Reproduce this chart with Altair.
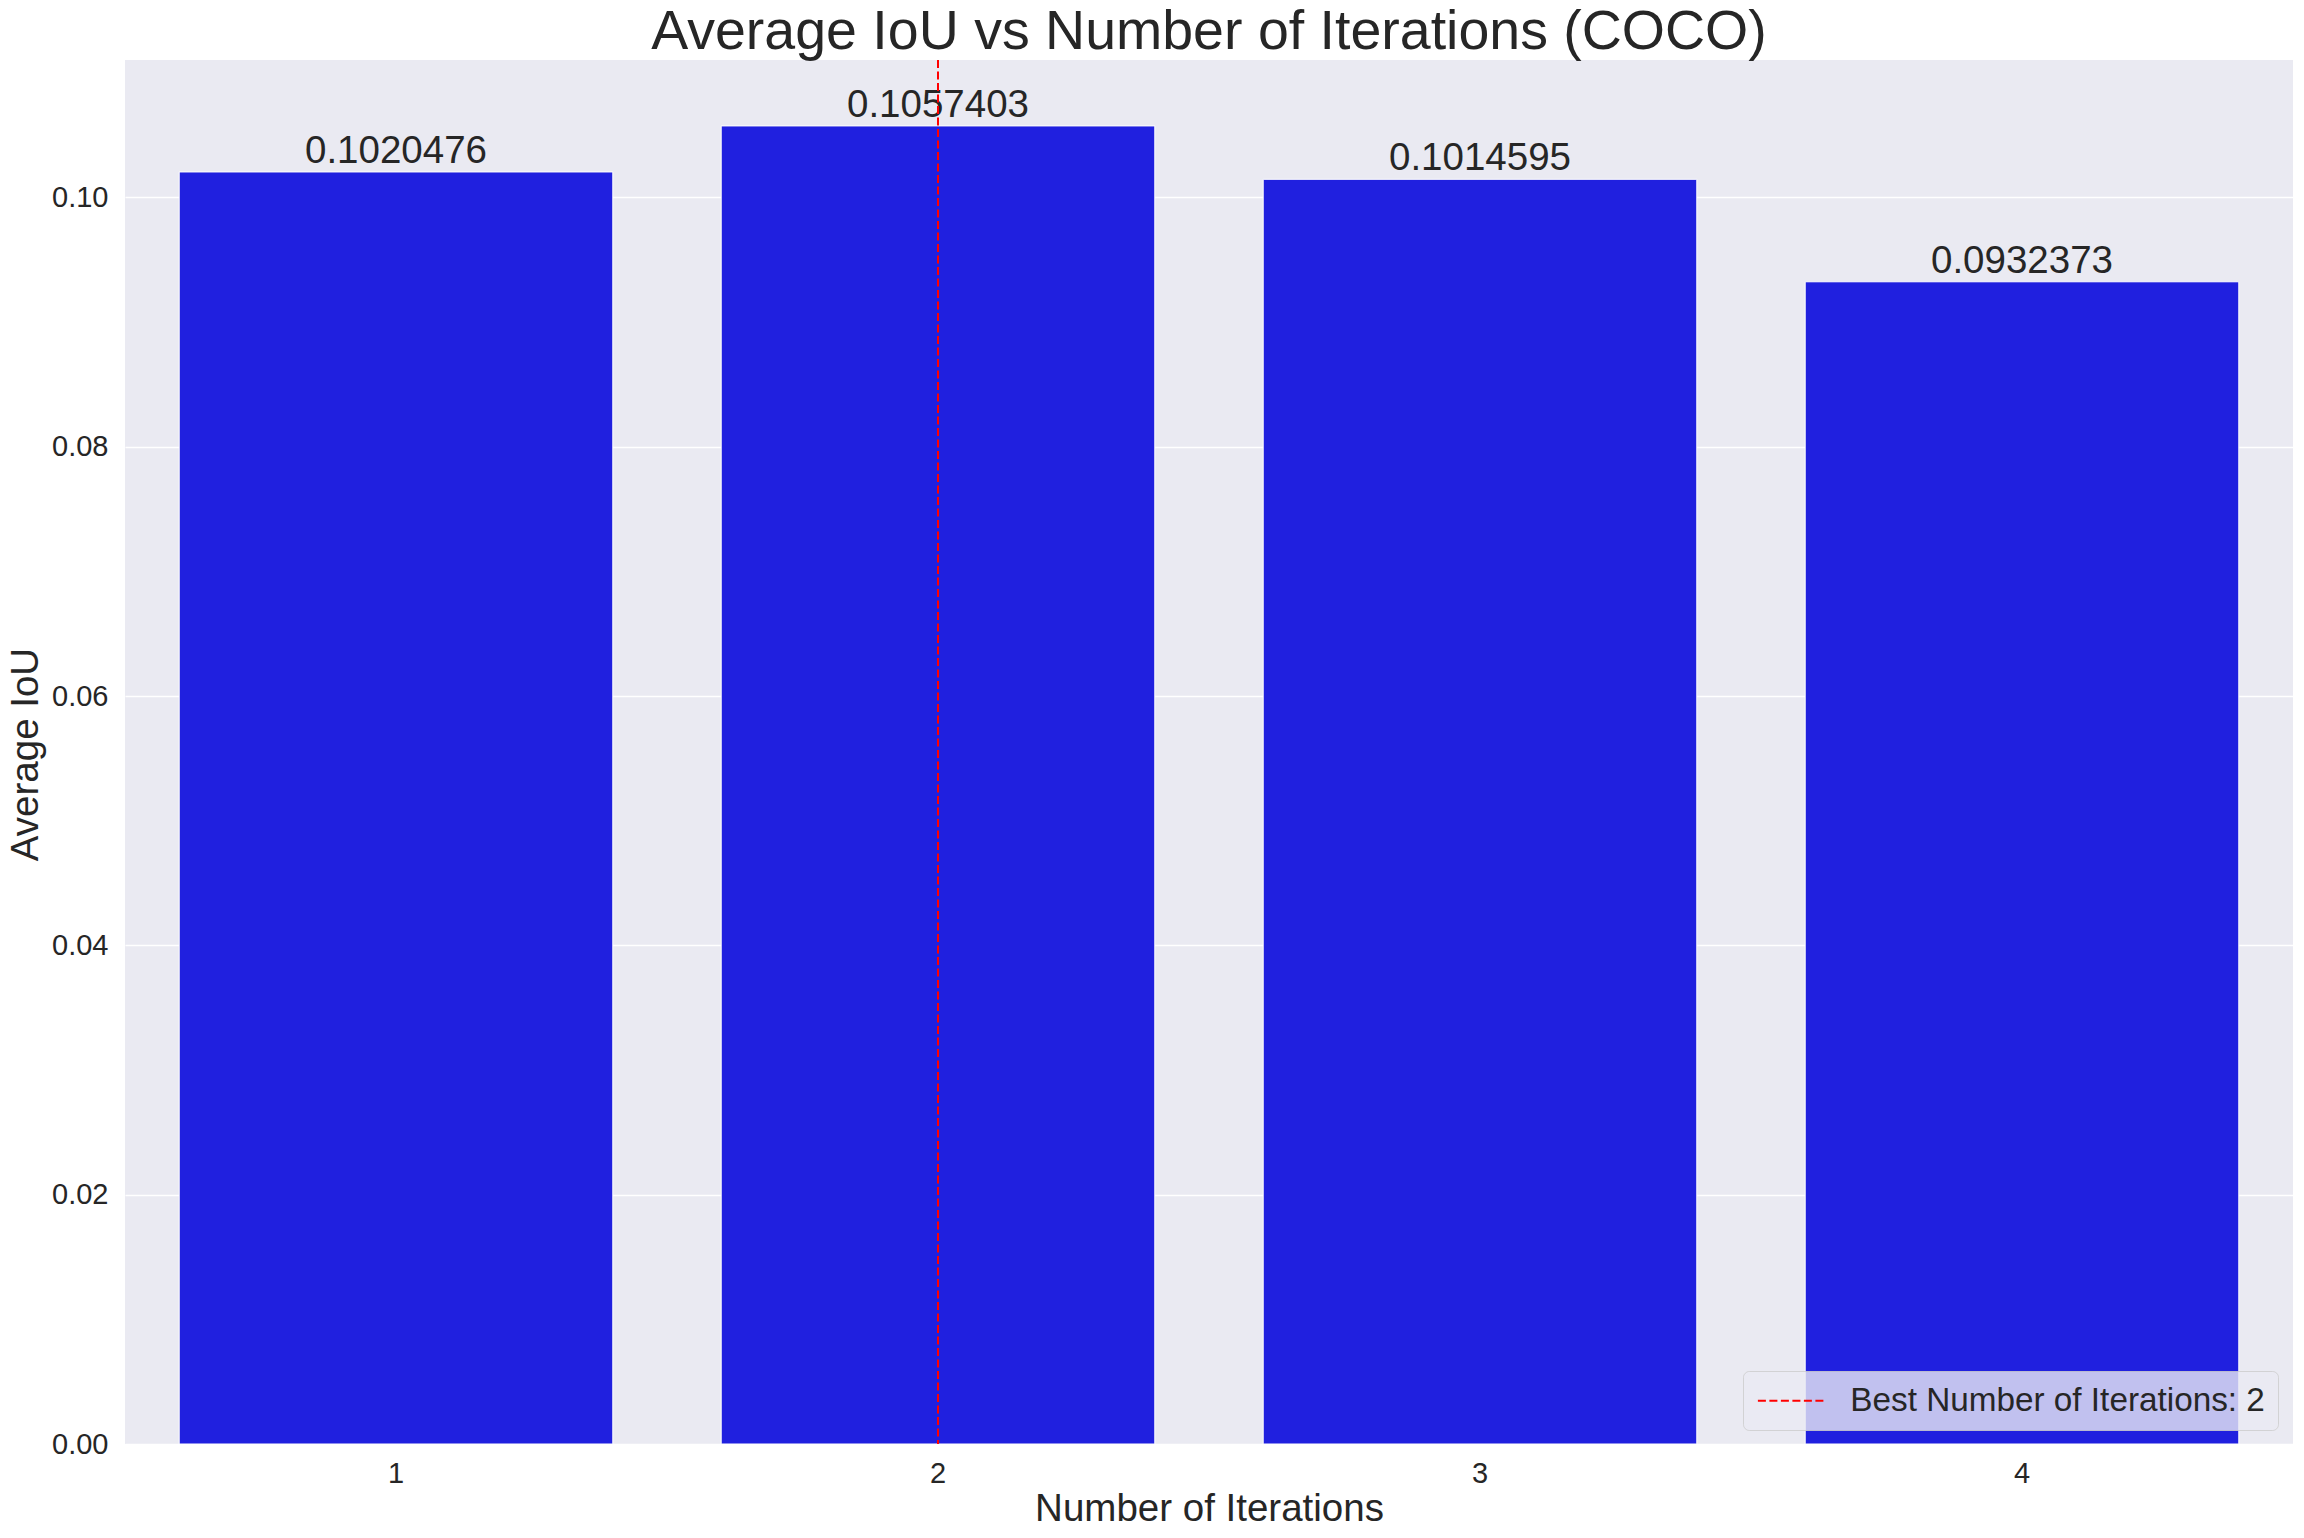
import altair as alt
import pandas as pd

iterations = ["1", "2", "3", "4"]
avg_iou = [0.1020476, 0.1057403, 0.1014595, 0.0932373]
best_iter = ["2"]
best_label = ["Best Number of Iterations: 2"]
y_ticks = [0.0, 0.02, 0.04, 0.06, 0.08, 0.10]

FONT = "Liberation Sans"
TXT = "#262626"

df = pd.DataFrame({"iter": iterations, "iou": avg_iou})
best_df = pd.DataFrame({"iter": best_iter, "label": best_label})

x_enc = alt.X(
    "iter:N",
    sort=iterations,
    scale=alt.Scale(paddingInner=0.2, paddingOuter=0.1),
    axis=alt.Axis(
        title="Number of Iterations",
        labelAngle=0,
        labelFontSize=29,
        labelFont=FONT,
        labelColor=TXT,
        labelBaseline="alphabetic",
        labelPadding=38,
        ticks=False,
        tickSize=0,
        domain=False,
        grid=False,
        titleFontSize=38.5,
        titleFont=FONT,
        titleColor=TXT,
        titleFontWeight="normal",
        titleBaseline="alphabetic",
        titleX=1084,
        titleY=76,
        titleAlign="center",
    ),
)

y_enc = alt.Y(
    "iou:Q",
    scale=alt.Scale(domain=[0, 0.11103], nice=False, zero=True),
    axis=alt.Axis(
        title="Average IoU",
        values=y_ticks,
        format=".2f",
        labelFontSize=29,
        labelFont=FONT,
        labelColor=TXT,
        labelPadding=17,
        ticks=False,
        tickSize=0,
        domain=False,
        grid=True,
        gridColor="white",
        gridWidth=1.5,
        titleFontSize=38.5,
        titleFont=FONT,
        titleColor=TXT,
        titleFontWeight="normal",
        titleAngle=270,
        titleBaseline="alphabetic",
        titleAlign="center",
        titleX=-88,
        titleY=694,
    ),
)

bars = alt.Chart(df).mark_bar(color="#2020df", stroke="white", strokeWidth=1).encode(
    x=x_enc, y=y_enc
)

labels = alt.Chart(df).mark_text(
    baseline="alphabetic", align="center", dy=-9, fontSize=38.5, font=FONT, color=TXT
).encode(
    x=alt.X("iter:N", sort=iterations),
    y="iou:Q",
    text=alt.Text("iou:Q", format=".7f"),
)

rule = alt.Chart(best_df).mark_rule(strokeDash=[8, 3.5], strokeWidth=2).encode(
    x=alt.X("iter:N", sort=iterations),
    color=alt.Color(
        "label:N",
        scale=alt.Scale(domain=best_label, range=["#ff0000"]),
        legend=alt.Legend(
            title=None,
            orient="none",
            legendX=1618,
            legendY=1311,
            symbolType="M-2.2,0H7.8",
            symbolDash=[8, 3.5],
            symbolStrokeWidth=2,
            symbolSize=180,
            labelFontSize=33.3,
            labelFont=FONT,
            labelColor=TXT,
            labelOffset=61,
            labelLimit=800,
            padding=13,
            fillColor="rgba(234,234,242,0.8)",
            strokeColor="rgba(204,204,204,0.8)",
            cornerRadius=6,
        ),
    ),
)

chart = (
    alt.layer(bars, labels, rule)
    .properties(
        width=2168,
        height=1384,
        title=alt.TitleParams(
            text="Average IoU vs Number of Iterations (COCO)",
            fontSize=55.5,
            font=FONT,
            color=TXT,
            fontWeight="normal",
            anchor="middle",
            baseline="alphabetic",
            offset=8,
            dy=53,
        ),
        padding={"left": 117, "top": 52, "right": 3, "bottom": 86},
        autosize=alt.AutoSizeParams(type="none"),
    )
    .configure(background="white")
    .configure_view(fill="#eaeaf2", stroke=None)
)

chart.save("out.html", embed_options={"renderer": "svg", "actions": False})
